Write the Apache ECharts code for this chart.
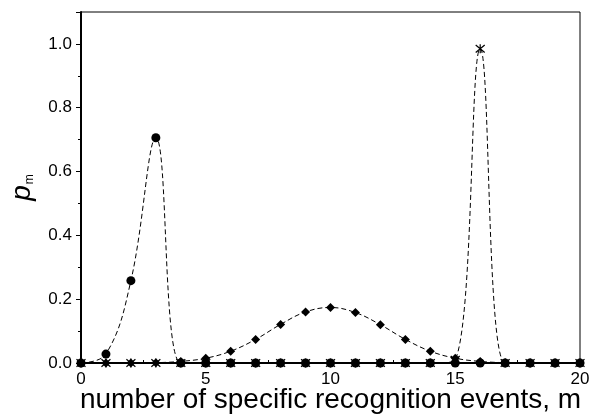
<!DOCTYPE html>
<html>
<head>
<meta charset="utf-8">
<script src="https://cdn.jsdelivr.net/npm/echarts@6/dist/echarts.min.js"></script>
<style>
  html, body { margin: 0; padding: 0; background: #fff; }
  #chart_div { width: 592px; height: 415px; }
</style>
</head>
<body>
<div id="chart_div"></div>
<script>
// m = 0..20
var mValues = [0,1,2,3,4,5,6,7,8,9,10,11,12,13,14,15,16,17,18,19,20]
// 圆点
var circleVals = [0,0.028,0.258,0.706,0,0,0,0,0,0,0,0,0,0,0,0,0,0,0,0,0]
// 菱形
var diamondVals = [0,0,0,0.001,0.005,0.015,0.037,0.074,0.121,0.16,0.174,0.158,0.12,0.074,0.037,0.015,0.005,0.001,0,0,0]
// 星号
var crossVals = [0,0,0,0,0,0,0,0,0,0,0,0,0,0,0,0.01,0.985,0,0,0,0]
var yTicks = ['0.0','0.2','0.4','0.6','0.8','1.0']

function pairs(vals) {
  let result = []
  for (let i = 0; i < mValues.length; i++) {
    result.push([mValues[i], vals[i]])
  }
  return result
}

var asterisk = 'path://M0,0L10,10M10,0L0,10M5,-1L5,11'
var font = 'Liberation Sans, Arial, sans-serif'

var dashLine = { color: '#000', width: 1, type: [5, 3] }

var option = {
  animation: false,
  backgroundColor: '#fff',
  grid: {
    left: 81, right: 12, top: 12, bottom: 52,
    outerBoundsMode: 'none', containLabel: false,
    show: true, borderColor: '#000', borderWidth: 1
  },
  xAxis: {
    type: 'value', min: 0, max: 20, interval: 5,
    name: 'number of specific recognition events, m',
    nameLocation: 'middle', nameGap: 23, nameMoveOverlap: false,
    nameTextStyle: { fontFamily: font, fontSize: 28, color: '#000' },
    axisLine: { lineStyle: { color: '#000', width: 2 } },
    axisTick: { inside: true, length: 4, lineStyle: { color: '#000' } },
    minorTick: { show: true, splitNumber: 2, length: 3, lineStyle: { color: '#000' } },
    axisLabel: { fontFamily: font, fontSize: 17, color: '#000', margin: 8 },
    splitLine: { show: false }
  },
  yAxis: {
    type: 'value', min: 0, max: 1.1, interval: 0.2,
    name: '{p|p}{m|m}',
    nameLocation: 'middle', nameGap: 45, nameRotate: 90, nameMoveOverlap: false,
    nameTextStyle: {
      rich: {
        p: { fontFamily: font, fontSize: 28, fontStyle: 'italic', color: '#000' },
        m: { fontFamily: font, fontSize: 12, color: '#000', verticalAlign: 'bottom', padding: [12, 0, 0, 1] }
      }
    },
    axisLine: { lineStyle: { color: '#000', width: 2 } },
    axisTick: { length: 5, lineStyle: { color: '#000' } },
    minorTick: { show: true, splitNumber: 2, length: 3, lineStyle: { color: '#000' } },
    axisLabel: {
      fontFamily: font, fontSize: 17, color: '#000', margin: 9, showMaxLabel: false,
      formatter: function (v) {
        let s = v.toFixed(1)
        return yTicks.indexOf(s) > -1 ? s : ''
      }
    },
    splitLine: { show: false }
  },
  series: [
    {
      type: 'line', data: pairs(diamondVals), smooth: 0.4,
      symbol: 'diamond', symbolSize: 9,
      itemStyle: { color: '#000' }, lineStyle: dashLine
    },
    {
      type: 'line', data: pairs(circleVals), smooth: 0.4,
      symbol: 'circle', symbolSize: 9,
      itemStyle: { color: '#000' }, lineStyle: dashLine
    },
    {
      type: 'line', data: pairs(crossVals), smooth: 0.4,
      symbol: asterisk, symbolSize: 9,
      itemStyle: { color: 'none', borderColor: '#000', borderWidth: 1.2 },
      lineStyle: dashLine
    }
  ]
}

var myChart = echarts.init(document.getElementById('chart_div'))
myChart.setOption(option)
</script>
</body>
</html>
